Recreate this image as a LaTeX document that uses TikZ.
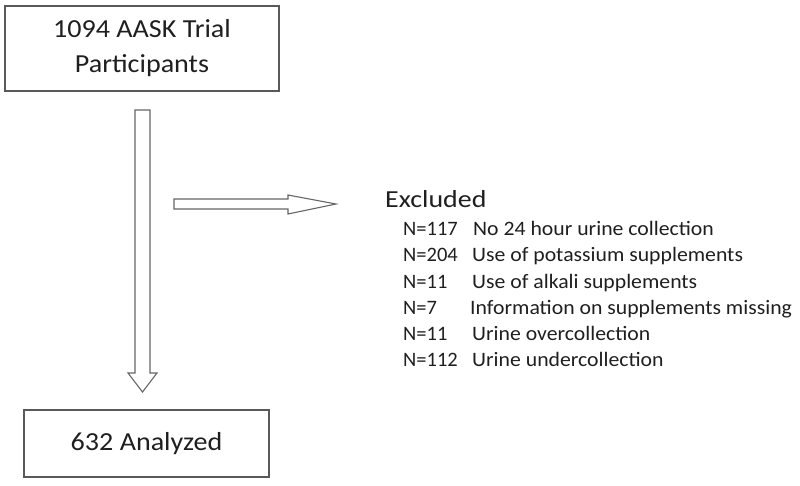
\documentclass[tikz,border=0pt]{standalone}
\usepackage{fontspec}
\setmainfont{Carlito}
\newfontfamily\bigf[FakeStretch=1.08]{Carlito}
\newfontfamily\headf[FakeStretch=1.14]{Carlito}
\newfontfamily\itemf[FakeStretch=1.06]{Carlito}
\newfontfamily\numf[FakeStretch=1.0]{Carlito}
\begin{document}
\begin{tikzpicture}[x=1pt,y=-1pt,
  box/.style={draw=black!65,line width=1.3pt,inner sep=0pt},
  blockarrow/.style={draw=black!60,line width=1.1pt,fill=white,line join=miter},
  big/.style={font=\bigf\fontsize{26}{35}\selectfont,text=black!88},
  head/.style={font=\headf\fontsize{24.5}{28}\selectfont,text=black!88,anchor=base west,inner sep=0pt},
  num/.style={font=\numf\fontsize{20.5}{24}\selectfont,text=black!88,anchor=base west,inner sep=0pt},
  item/.style={font=\itemf\fontsize{20.5}{24}\selectfont,text=black!88,anchor=base west,inner sep=0pt}]
\useasboundingbox (0,0) rectangle (800,485);
% boxes
\node[box,minimum width=274pt,minimum height=85pt] (top) at (142,48.5) {};
\node[big,align=center] (toptext) at (top.center) {1094 AASK Trial\\Participants};
\node[box,minimum width=245pt,minimum height=67pt] (bot) at (146.5,443.5) {};
\node[big] (bottext) at (bot.center) {632 Analyzed};
% vertical block arrow
\draw[blockarrow] (135,110) -- (150,110) -- (150,373) -- (157,373) -- (142.5,392)
  -- (128,373) -- (135,373) -- cycle;
% horizontal block arrow
\draw[blockarrow] (174,199) -- (288,199) -- (288,195) -- (336,204) -- (288,214)
  -- (288,209) -- (174,209) -- cycle;
% excluded text
\node[head] (exc) at (385,207) {Excluded};
\node[num] (n1) at (403,235.5) {N=117};
\node[item] (d1) at (473,235.5) {No 24 hour urine collection};
\node[num] (n2) at (403,261.7) {N=204};
\node[item] (d2) at (472,261.7) {Use of potassium supplements};
\node[num] (n3) at (403,288) {N=11};
\node[item] (d3) at (472,288) {Use of alkali supplements};
\node[num] (n4) at (403,314) {N=7};
\node[item] (d4) at (470,314) {Information on supplements missing};
\node[num] (n5) at (403,340.5) {N=11};
\node[item] (d5) at (472,340.5) {Urine overcollection};
\node[num] (n6) at (403,366.7) {N=112};
\node[item] (d6) at (472,366.7) {Urine undercollection};
\end{tikzpicture}
\end{document}
